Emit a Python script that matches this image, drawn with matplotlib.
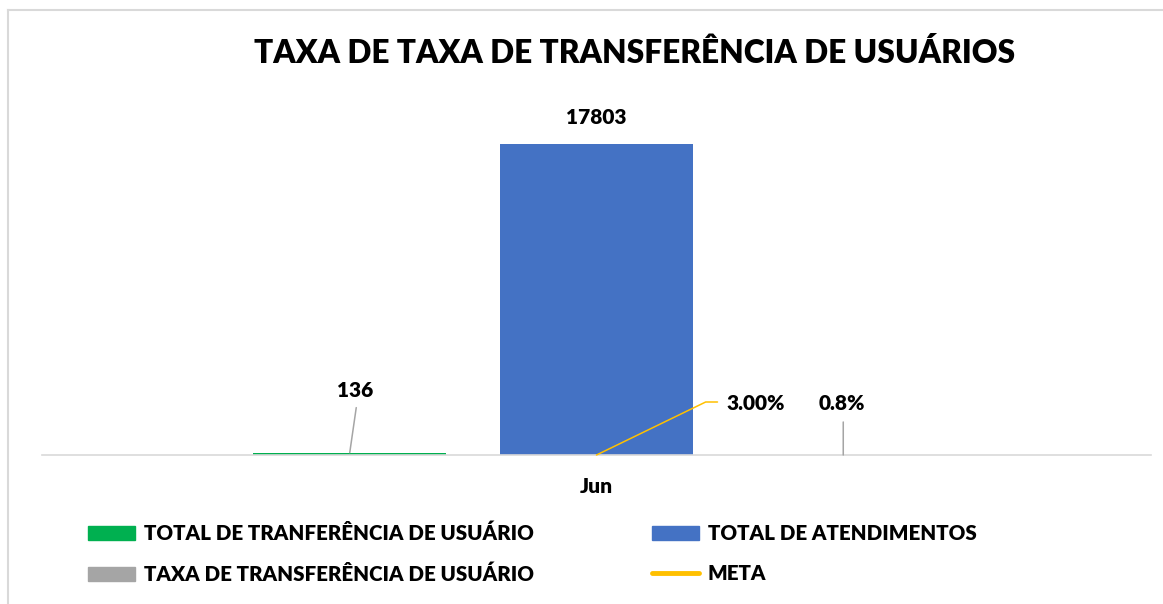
import matplotlib
matplotlib.use("Agg")
import matplotlib.pyplot as plt
from matplotlib.lines import Line2D
from matplotlib.patches import Patch

# data
categories = ["Jun"]
total_transferencia = [136]
total_atendimentos = [17803]
taxa_transferencia = [0.008]
meta = [0.03]

series_names = ["TOTAL DE TRANFERÊNCIA DE USUÁRIO", "TOTAL DE ATENDIMENTOS",
                "TAXA DE TRANSFERÊNCIA DE USUÁRIO", "META"]
title = "TAXA DE TAXA DE TRANSFERÊNCIA DE USUÁRIOS"

GREEN = "#00B050"
BLUE = "#4472C4"
GRAY = "#A5A5A5"
YELLOW = "#FFC000"
LIGHT = "#D9D9D9"

plt.rcParams['font.family'] = ['Lato', 'DejaVu Sans']

W, H = 1163, 604
fig = plt.figure(figsize=(W / 100, H / 100), dpi=100)

# chart border (cut off on the right / bottom)
fig.add_artist(Line2D([8 / W, 8 / W], [0, 1 - 10 / H], transform=fig.transFigure, color=LIGHT, lw=1.5))
fig.add_artist(Line2D([8 / W, 1], [1 - 10 / H, 1 - 10 / H], transform=fig.transFigure, color=LIGHT, lw=1.5))

ax = fig.add_axes([42 / W, 149 / H, 1109 / W, 349.4 / H])
ax.set_xlim(-0.5, 0.5)
ax.set_ylim(0, 20000)

x = 0
width = 0.174
offset = 0.2225
ax.bar(x - offset, total_transferencia, width, color=GREEN)
ax.bar(x, total_atendimentos, width, color=BLUE)
ax.bar(x + offset, taxa_transferencia, width, color=GRAY)
ax.plot([x], meta, color=YELLOW, lw=2)

for s in ["top", "right", "left"]:
    ax.spines[s].set_visible(False)
ax.spines["bottom"].set_color(LIGHT)
ax.spines["bottom"].set_linewidth(1.2)
ax.set_yticks([])
ax.set_xticks([x])
ax.set_xticklabels(categories, fontsize=15, fontweight='heavy')
ax.tick_params(axis='x', length=0, pad=16)

lbl = dict(textcoords='offset pixels', ha='center', va='center', fontsize=15, fontweight='heavy')

# value labels
ax.annotate(f"{total_atendimentos[0]}", xy=(x, total_atendimentos[0]), xytext=(0, 26), **lbl)

ax.annotate(f"{total_transferencia[0]}", xy=(x - offset, total_transferencia[0]), xytext=(5.5, 62), **lbl)
ax.annotate("", xy=(x - offset, total_transferencia[0]), xytext=(6.5, 45), textcoords='offset pixels',
            arrowprops=dict(arrowstyle='-', color=GRAY, lw=1.1, shrinkA=0, shrinkB=0))

ax.annotate(f"{taxa_transferencia[0] * 100:.1f}%", xy=(x + offset, taxa_transferencia[0]), xytext=(-1, 51), **lbl)
ax.annotate("", xy=(x + offset, taxa_transferencia[0]), xytext=(0, 33), textcoords='offset pixels',
            arrowprops=dict(arrowstyle='-', color=GRAY, lw=1.1, shrinkA=0, shrinkB=0))

ax.annotate(f"{meta[0] * 100:.2f}%", xy=(x, meta[0]), xytext=(159, 51), **lbl)
ax.annotate("", xy=(x, meta[0]), xytext=(121, 53), textcoords='offset pixels',
            arrowprops=dict(arrowstyle='-', color=YELLOW, lw=1.1, shrinkA=0, shrinkB=0,
                            connectionstyle="angle,angleA=0,angleB=25.9,rad=0"))

fig.text(635 / W, 1 - 53 / H, title, ha='center', va='center', fontsize=22.8, fontweight='heavy')

# legend, two columns
leg_kw = dict(frameon=False, fontsize=14.8, handlelength=2.3, handleheight=0.65,
              handletextpad=0.4, labelspacing=1.02, borderpad=0, borderaxespad=0, loc='upper left')
h1 = [Patch(color=GREEN), Patch(color=GRAY)]
h2 = [Patch(color=BLUE), Line2D([], [], color=YELLOW, lw=3.5, solid_capstyle='round')]
l1 = fig.legend(h1, [series_names[0], series_names[2]], bbox_to_anchor=(88 / W, 1 - 524 / H), **leg_kw)
l2 = fig.legend(h2, [series_names[1], series_names[3]], bbox_to_anchor=(652 / W, 1 - 524 / H), **leg_kw)
for lg in (l1, l2):
    for t in lg.get_texts():
        t.set_fontweight('heavy')

fig.savefig("out.png", dpi=100)
